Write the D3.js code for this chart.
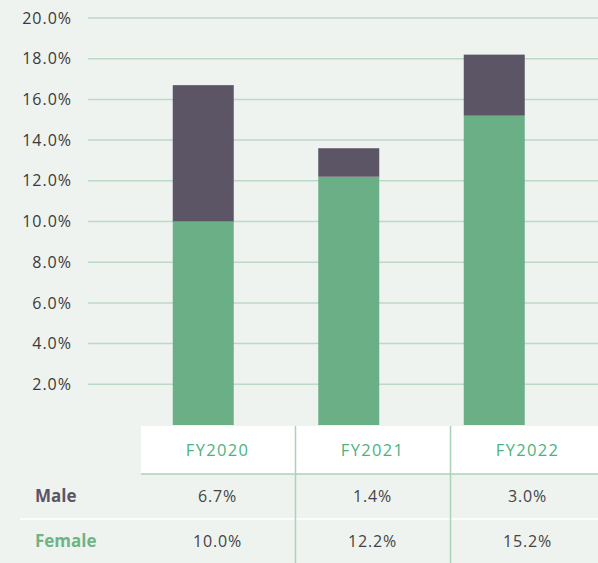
<!DOCTYPE html>
<html>
<head>
<meta charset="utf-8">
<script src="https://cdn.jsdelivr.net/npm/d3@7"></script>
<style>
  body { margin: 0; background: #eef3ef; }
  svg { display: block; font-family: "Open Sans", "Noto Sans", sans-serif; }
</style>
</head>
<body>
<div id="chart"></div>
<script>
const years = ["FY2020", "FY2021", "FY2022"];
const male = [6.7, 1.4, 3.0];
const female = [10.0, 12.2, 15.2];
const yTicks = [2, 4, 6, 8, 10, 12, 14, 16, 18, 20];

const width = 598, height = 563;
const bg = "#eef3ef";
const maleColor = "#5c5566";
const femaleColor = "#6baf86";
const gridColor = "#bcd9c5";

const svg = d3.select("#chart").append("svg")
  .attr("width", width)
  .attr("height", height);

svg.append("rect").attr("width", width).attr("height", height).attr("fill", bg);

// scales
const y = d3.scaleLinear().domain([0, 20]).range([425, 18]);
const x = d3.scaleBand().domain(years).range([130.5, 567]);
const col = d3.scaleBand().domain(years).range([141, 606]);

// gridlines + labels
const yAxis = svg.append("g");
yAxis.selectAll("line")
  .data(yTicks)
  .enter().append("line")
  .attr("x1", 88).attr("x2", width)
  .attr("y1", d => y(d)).attr("y2", d => y(d))
  .attr("stroke", gridColor)
  .attr("stroke-width", 1.5);
yAxis.selectAll("text")
  .data(yTicks)
  .enter().append("text")
  .attr("x", 72)
  .attr("y", d => y(d))
  .attr("dy", "0.35em")
  .attr("text-anchor", "end")
  .attr("fill", "#3a3a3a")
  .style("font-size", "16px")
  .style("letter-spacing", "1px")
  .text(d => d.toFixed(1) + "%");

// stacked bars
const rows = years.map((yr, i) => ({ year: yr, female: female[i], male: male[i] }));
const bw = 61;

svg.selectAll(".female")
  .data(rows)
  .enter().append("rect")
  .attr("class", "female")
  .attr("x", d => x(d.year) + x.bandwidth() / 2 - bw / 2)
  .attr("width", bw)
  .attr("y", d => y(d.female))
  .attr("height", d => y(0) - y(d.female))
  .attr("fill", femaleColor);

svg.selectAll(".male")
  .data(rows)
  .enter().append("rect")
  .attr("class", "male")
  .attr("x", d => x(d.year) + x.bandwidth() / 2 - bw / 2)
  .attr("width", bw)
  .attr("y", d => y(d.female + d.male))
  .attr("height", d => y(d.female) - y(d.female + d.male))
  .attr("fill", maleColor);

// table
const tableTop = 426, headH = 48, rowH = 45;
const table = svg.append("g");

table.append("rect")
  .attr("x", 141).attr("y", tableTop)
  .attr("width", width - 141).attr("height", headH)
  .attr("fill", "#fff");

table.selectAll(".head")
  .data(years)
  .enter().append("text")
  .attr("x", d => col(d) + col.bandwidth() / 2 - 1)
  .attr("y", tableTop + headH / 2)
  .attr("dy", "0.35em")
  .attr("text-anchor", "middle")
  .attr("fill", "#4cb37d")
  .style("font-size", "16.5px")
  .style("letter-spacing", "1.3px")
  .text(d => d);

// separators
table.append("line")
  .attr("x1", 141).attr("x2", width)
  .attr("y1", tableTop + headH).attr("y2", tableTop + headH)
  .attr("stroke", "#a9d3b5").attr("stroke-width", 1.5);
table.append("line")
  .attr("x1", 20).attr("x2", width)
  .attr("y1", tableTop + headH + rowH).attr("y2", tableTop + headH + rowH)
  .attr("stroke", "#fff").attr("stroke-width", 1.5);
table.selectAll(".vline")
  .data(years.slice(1))
  .enter().append("line")
  .attr("x1", d => col(d) - 0.5).attr("x2", d => col(d) - 0.5)
  .attr("y1", tableTop).attr("y2", height)
  .attr("stroke", "#a9d3b5").attr("stroke-width", 1.5);

const tableRows = [
  { label: "Male", values: male, color: maleColor },
  { label: "Female", values: female, color: "#6fb388" }
];

tableRows.forEach((r, i) => {
  const cy = tableTop + headH + rowH * i + rowH / 2;
  table.append("text")
    .attr("x", 35).attr("y", cy)
    .attr("dy", "0.35em")
    .attr("fill", r.color)
    .style("font-size", "17px")
    .style("font-weight", "bold")
    .text(r.label);
  table.selectAll(".v" + i)
    .data(r.values)
    .enter().append("text")
    .attr("x", (d, j) => col(years[j]) + col.bandwidth() / 2 - 1)
    .attr("y", cy)
    .attr("dy", "0.35em")
    .attr("text-anchor", "middle")
    .attr("fill", "#444")
    .style("font-size", "16px")
    .style("letter-spacing", "0.8px")
    .text(d => d.toFixed(1) + "%");
});
</script>
</body>
</html>
